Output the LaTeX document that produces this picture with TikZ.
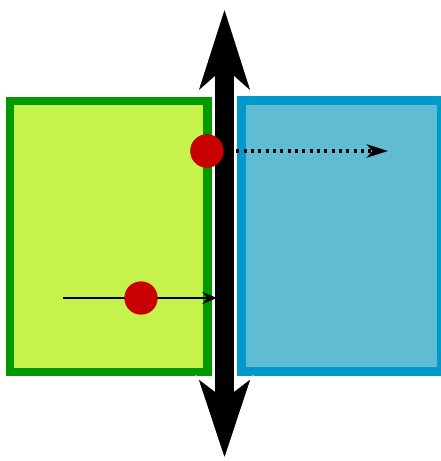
\documentclass[tikz,border=0pt]{standalone}
\usetikzlibrary{arrows.meta}
\definecolor{leafgreen}{RGB}{198,242,76}
\definecolor{darkgreen}{RGB}{0,153,0}
\definecolor{skyblue}{RGB}{95,188,211}
\definecolor{deepblue}{RGB}{0,153,204}
\definecolor{dotred}{RGB}{200,0,0}
\begin{document}
\begin{tikzpicture}[x=0.75pt, y=-0.75pt,
  medium/.style={line width=6.3pt},
  particle/.style={circle, fill=dotred, inner sep=0pt, minimum size=25pt},
  ray/.style={line width=2.2pt, -{Stealth[length=11pt, width=9pt, inset=4pt]}}]
\useasboundingbox (0,0) rectangle (441,461);
% two media
\draw[medium, draw=darkgreen, fill=leafgreen] (10,101) rectangle (207.5,372);
\draw[medium, draw=deepblue, fill=skyblue] (241.5,100.5) rectangle (441,371.5);
\coordinate (rayend) at (388,151);
\node[particle] (p1) at (207,151) {};
\draw[line width=2.4pt, dash pattern=on 2.2pt off 3.3pt,
  -{Stealth[length=16pt, width=10pt, inset=4.5pt]}] (p1.center) -- (rayend);
% interface
\fill[black, draw=white, line width=1.2pt]
  (224.5,7) -- (252,93) -- (235,78) -- (235,390) -- (252,377) -- (224.5,460)
  -- (197,377) -- (214,390) -- (214,78) -- (197,93) -- cycle;
\node[particle] at (p1) {};
% incoming
\coordinate (raystart) at (63,298);
\coordinate (wall) at (217,298);
\draw[ray] (raystart) -- (wall);
\node[particle] (p2) at (141,298) {};
\end{tikzpicture}
\end{document}
